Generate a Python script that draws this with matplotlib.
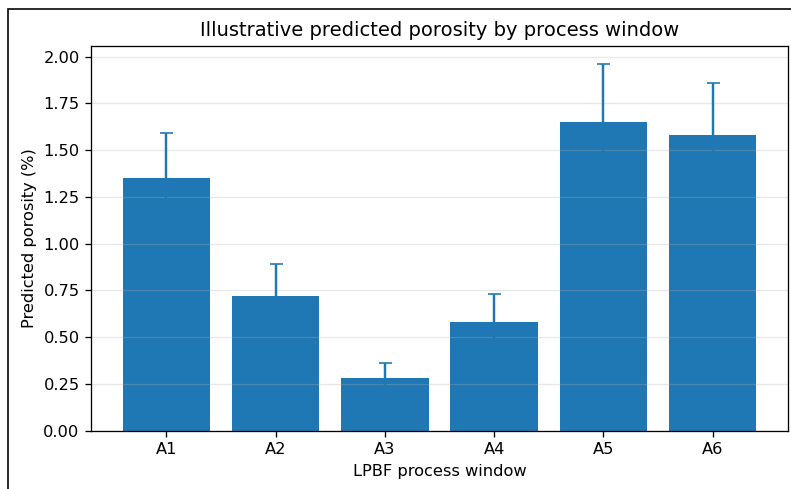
import numpy as np
import matplotlib
matplotlib.use("Agg")
import matplotlib.pyplot as plt
from matplotlib.patches import Rectangle

# process windows and predicted porosity (%) with upper uncertainty
windows = ["A1", "A2", "A3", "A4", "A5", "A6"]
porosity = [1.35, 0.72, 0.28, 0.58, 1.65, 1.58]
err = [0.24, 0.17, 0.08, 0.15, 0.31, 0.28]

DPI = 117
fig = plt.figure(figsize=(791 / DPI, 489 / DPI), dpi=DPI)
ax = fig.add_axes([91 / 791, 1 - 430.7 / 489, (788 - 91) / 791, (430.7 - 45.7) / 489])

x = np.arange(len(windows))
ax.bar(x, porosity, width=0.8, color="#1f77b4")
ax.errorbar(x, porosity, yerr=err, fmt="none", ecolor="#1f77b4", capsize=4)

ax.set_xticks(x)
ax.set_xticklabels(windows)
ax.grid(axis="y", alpha=0.3)
ax.set_title("Illustrative predicted porosity by process window")
ax.set_xlabel("LPBF process window")
ax.set_ylabel("Predicted porosity (%)")

# frame around the screenshot (left and top edges visible)
fig.patches.append(Rectangle((8 / 791, -0.1), 1.2, 1 - 9 / 489 + 0.1, transform=fig.transFigure,
                             fill=False, edgecolor="black", linewidth=1.0))

fig.savefig("out.png", dpi=DPI)
